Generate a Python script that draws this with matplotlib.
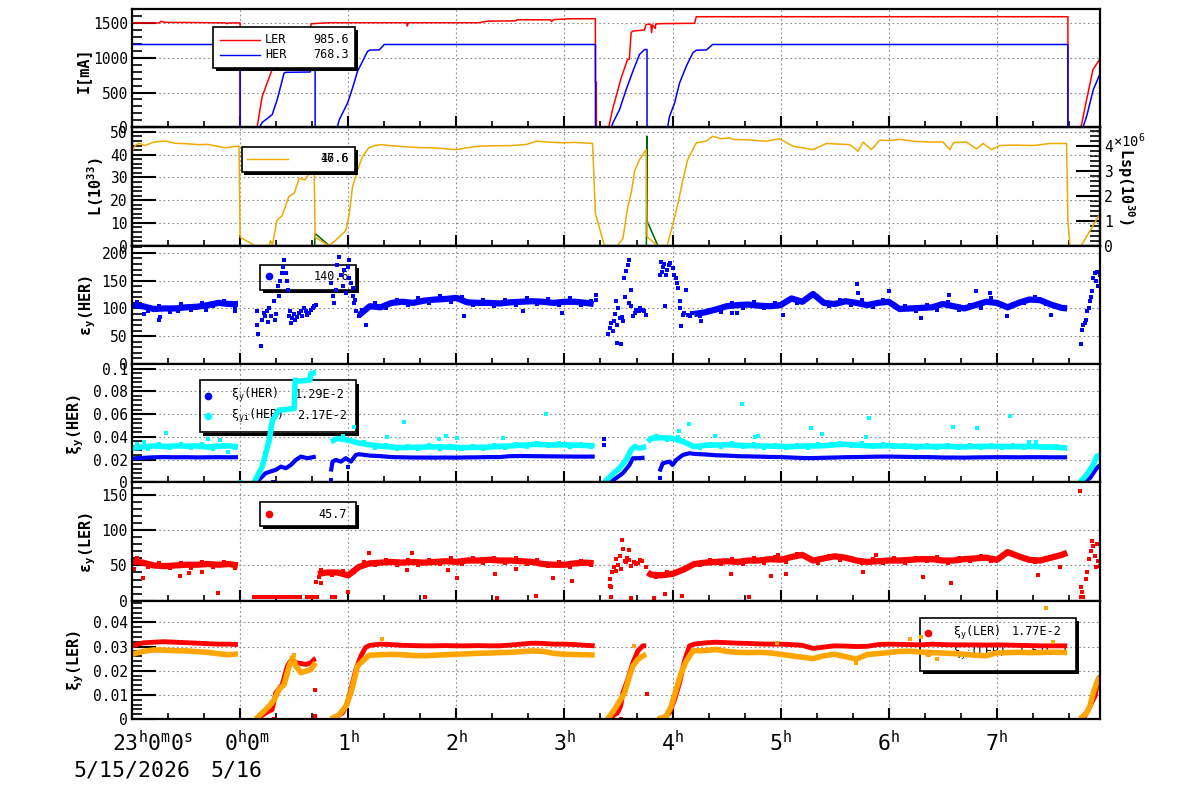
#!/usr/bin/env python
import matplotlib
matplotlib.use('Agg')
import matplotlib.pyplot as plt
import numpy as np
from matplotlib.lines import Line2D
from matplotlib.patches import Rectangle
from matplotlib.ticker import MultipleLocator, AutoMinorLocator, FuncFormatter
from matplotlib.transforms import blended_transform_factory, ScaledTranslation

G = (np.nan, np.nan)  # break between runs

# time: hours after 23:00 on 5/15/2026
tick_hours = [0, 1, 2, 3, 4, 5, 6, 7, 8]
tick_labels = ['23$^\\mathregular{h}$0$^\\mathregular{m}$0$^\\mathregular{s}$',
               '0$^\\mathregular{h}$0$^\\mathregular{m}$',
               '1$^\\mathregular{h}$', '2$^\\mathregular{h}$', '3$^\\mathregular{h}$',
               '4$^\\mathregular{h}$', '5$^\\mathregular{h}$', '6$^\\mathregular{h}$',
               '7$^\\mathregular{h}$']
date_labels = ['5/15/2026', '5/16']

# beam currents [mA]
i_ler = [(0.0, 1500), (0.25, 1500), (0.27, 1525), (0.30, 1508), (0.62, 1505), (0.86, 1500),
         (0.88, 1490), (0.90, 1500), (1.0, 1500), (1.0, 0), (1.157, 0), (1.204, 444),
         (1.296, 829), (1.343, 973), (1.49, 990), (1.50, 1380), (1.64, 1390), (1.66, 1488),
         (1.82, 1503), (2.54, 1503), (2.546, 1455), (2.556, 1503), (3.2, 1503), (3.3, 1526),
         (3.55, 1530), (3.56, 1545), (3.87, 1545), (3.88, 1520), (3.90, 1548), (4.05, 1560),
         (4.286, 1560), (4.287, 650), (4.295, 650), (4.296, 0), (4.41, 0), (4.444, 251),
         (4.525, 709), (4.583, 973), (4.60, 980), (4.617, 1358), (4.63, 1382), (4.722, 1396),
         (4.74, 1400), (4.756, 1478), (4.80, 1480), (4.806, 1362), (4.815, 1470), (4.84, 1420),
         (4.845, 1485), (4.9, 1490), (5.204, 1495), (5.219, 1589), (8.657, 1589), (8.657, 0),
         (8.778, 0), (8.83, 397), (8.889, 829), (8.954, 983)]
i_her = [(0.0, 1190), (1.0, 1190), (1.0, 0), (1.18, 0), (1.204, 70), (1.296, 180), (1.343, 397),
         (1.407, 781), (1.42, 790), (1.648, 795), (1.685, 926), (1.694, 926), (1.694, 0),
         (1.898, 0), (1.917, 108), (1.994, 349), (2.04, 565), (2.086, 805), (2.179, 1093),
         (2.20, 1110), (2.287, 1112), (2.333, 1190), (4.287, 1190), (4.287, 0), (4.435, 0),
         (4.447, 60), (4.509, 252), (4.571, 541), (4.633, 805), (4.694, 1046), (4.741, 1118),
         (4.764, 1118), (4.764, 0), (4.954, 0), (4.972, 156), (5.019, 349), (5.065, 637),
         (5.127, 877), (5.188, 1070), (5.219, 1108), (5.315, 1112), (5.37, 1190), (8.657, 1190),
         (8.657, 0), (8.796, 0), (8.83, 156), (8.892, 541), (8.954, 768)]
cur_last = ['985.6', '768.3']

# luminosity L [1e33] and Lsp [1e30 x 1e6]
lum = [(0.0, 41.5), (0.03, 44), (0.065, 45), (0.12, 44), (0.2, 45.5), (0.31, 46), (0.4, 45),
       (0.5, 44.8), (0.62, 44.4), (0.7, 44.5), (0.8, 43.6), (0.86, 43), (0.93, 43.5),
       (0.99, 43.7), (1.0, 3.7), (1.14, 0), (1.27, 0), (1.28, 2.2), (1.30, 0.5), (1.34, 11),
       (1.39, 13.3), (1.45, 21.5), (1.50, 23), (1.546, 29.6), (1.60, 28.9), (1.65, 32.6),
       (1.685, 34.8), (1.694, 3.7), (1.82, 0), (1.88, 2.2), (1.98, 6.7), (2.01, 14), (2.04, 26),
       (2.086, 33), (2.13, 39), (2.19, 43), (2.25, 44), (2.31, 44.4), (2.4, 43.9), (2.47, 43.7),
       (2.6, 43.2), (2.75, 43), (2.85, 42.8), (2.997, 42.2), (3.1, 43), (3.21, 43.7),
       (3.35, 43.9), (3.52, 44), (3.65, 44.5), (3.74, 45.9), (3.85, 45.5), (3.98, 45.2),
       (4.1, 45.4), (4.26, 44.9), (4.287, 14), (4.37, 0), (4.49, 0), (4.54, 3), (4.586, 17),
       (4.617, 23), (4.65, 33), (4.694, 37.8), (4.756, 42.2), (4.764, 4), (4.86, 0), (4.95, 0),
       (4.988, 6.7), (5.05, 18.5), (5.096, 29), (5.14, 37.8), (5.22, 45.2), (5.31, 45.9),
       (5.37, 48.1), (5.45, 47), (5.53, 47.4), (5.56, 46.7), (5.7, 46.5), (5.867, 45.9),
       (5.99, 47), (6.114, 43.7), (6.2, 43), (6.299, 42.2), (6.423, 44.9), (6.55, 44.6),
       (6.639, 44.4), (6.716, 41.5), (6.762, 45.5), (6.84, 42.2), (6.917, 46.4), (7.0, 46.2),
       (7.102, 46.7), (7.25, 45.8), (7.41, 45.5), (7.5, 45.6), (7.565, 42.2), (7.6, 45.3),
       (7.719, 45.5), (7.812, 42.5), (7.873, 44.9), (7.951, 42.2), (8.028, 44), (8.15, 44.2),
       (8.336, 44), (8.491, 44.9), (8.645, 44.9), (8.657, 11), (8.676, 0), (8.78, 0),
       (8.954, 14)]
lsp = [(1.690, 0.0), (1.694, 0.49), (1.824, 0.0), G, (4.758, 0.0), (4.762, 4.4), (4.764, 1.0),
       (4.864, 0.0)]
lum_last = ['47.6', '16.6']

# vertical emittance HER
eh_band = [(0.0, 106), (0.1, 104), (0.2, 99), (0.3, 100), (0.4, 100), (0.5, 102), (0.6, 103),
           (0.7, 106), (0.8, 110), (0.9, 108), (0.98, 108), G,
           (2.1, 88), (2.2, 104), (2.3, 102), (2.4, 110), (2.5, 112), (2.6, 110), (2.7, 114),
           (2.8, 116), (2.9, 117), (3.0, 119), (3.1, 111), (3.2, 110), (3.3, 110), (3.4, 109),
           (3.5, 111), (3.6, 112), (3.7, 113), (3.8, 112), (3.9, 110), (4.0, 112), (4.1, 112),
           (4.2, 110), (4.27, 108), G,
           (5.2, 90), (5.3, 93), (5.4, 98), (5.5, 104), (5.6, 106), (5.7, 107), (5.8, 105),
           (5.9, 104), (6.0, 106), (6.1, 118), (6.2, 112), (6.3, 126), (6.4, 110), (6.5, 108),
           (6.6, 113), (6.7, 110), (6.8, 106), (6.9, 110), (7.0, 112), (7.1, 99), (7.2, 100),
           (7.3, 101), (7.4, 102), (7.5, 108), (7.6, 104), (7.7, 100), (7.8, 106), (7.9, 112),
           (8.0, 110), (8.1, 102), (8.2, 110), (8.3, 116), (8.4, 115), (8.5, 107), (8.6, 101),
           (8.65, 100)]
eh_spread = [(0.05, 112), (0.15, 96), (0.25, 104), (0.35, 94), (0.45, 108), (0.55, 98),
             (0.65, 110), (0.75, 104), (0.85, 114), (0.95, 103),
             (2.15, 98), (2.25, 110), (2.35, 100), (2.45, 116), (2.55, 106), (2.65, 118),
             (2.75, 110), (2.85, 122), (2.95, 112), (3.05, 121), (3.15, 106), (3.25, 116),
             (3.35, 104), (3.45, 115), (3.55, 106), (3.65, 119), (3.75, 108), (3.85, 117),
             (3.95, 106), (4.05, 118), (4.15, 106), (4.25, 114),
             (5.25, 86), (5.35, 97), (5.45, 94), (5.55, 110), (5.65, 101), (5.75, 112),
             (5.85, 100), (5.95, 110), (6.05, 112), (6.15, 110), (6.25, 120), (6.35, 118),
             (6.45, 104), (6.55, 116), (6.65, 106), (6.75, 116), (6.85, 102), (6.95, 116),
             (7.05, 104), (7.15, 104), (7.25, 96), (7.35, 106), (7.45, 98), (7.55, 112),
             (7.65, 98), (7.75, 106), (7.85, 100), (7.95, 118), (8.05, 104), (8.15, 108),
             (8.25, 110), (8.35, 120), (8.45, 108), (8.55, 104)]
eh_pts = [(0.25, 80), (0.26, 85), (0.11, 90), (0.43, 95), (0.68, 97), (0.95, 96),
          (1.157, 95), (1.16, 70), (1.17, 54), (1.19, 33), (1.20, 80), (1.22, 92), (1.23, 86),
          (1.25, 95), (1.26, 75), (1.27, 100), (1.29, 86), (1.31, 113), (1.32, 80), (1.33, 90),
          (1.35, 140), (1.36, 122), (1.37, 150), (1.39, 164), (1.40, 175), (1.41, 188),
          (1.42, 164), (1.43, 150), (1.44, 134), (1.45, 86), (1.46, 95), (1.47, 74), (1.48, 83),
          (1.50, 90), (1.51, 80), (1.53, 84), (1.545, 92), (1.56, 95), (1.576, 86), (1.59, 100),
          (1.61, 95), (1.62, 88), (1.64, 92), (1.66, 98), (1.67, 101), (1.68, 104), (1.70, 107),
          (1.84, 146), (1.855, 122), (1.87, 110), (1.886, 134), (1.90, 178), (1.917, 193),
          (1.93, 160), (1.95, 140), (1.96, 170), (1.98, 128), (2.0, 175), (2.009, 188),
          (2.01, 155), (2.025, 146), (2.04, 122), (2.045, 137), (2.056, 110), (2.06, 116),
          (2.071, 95), (2.10, 86), (2.13, 98), (2.16, 71),
          (3.07, 86), (3.62, 95), (3.98, 92), (4.29, 125), (4.29, 116),
          (4.40, 54), (4.42, 65), (4.43, 74), (4.45, 60), (4.46, 77), (4.47, 90), (4.48, 113),
          (4.485, 37), (4.49, 71), (4.50, 100), (4.51, 83), (4.52, 36), (4.53, 85), (4.54, 77),
          (4.554, 155), (4.56, 120), (4.57, 167), (4.586, 178), (4.594, 188), (4.60, 110),
          (4.617, 134), (4.62, 104), (4.633, 86), (4.65, 92), (4.664, 98), (4.694, 95),
          (4.70, 100), (4.725, 98), (4.74, 95), (4.756, 89),
          (4.88, 161), (4.895, 184), (4.90, 165), (4.91, 175), (4.92, 180), (4.927, 104),
          (4.94, 161), (4.95, 170), (4.97, 178), (4.98, 182), (5.0, 173), (5.01, 160),
          (5.034, 155), (5.04, 145), (5.05, 137), (5.065, 113), (5.07, 100), (5.08, 68),
          (5.096, 89), (5.11, 92), (5.127, 134), (5.14, 88), (5.157, 86), (5.18, 92),
          (5.26, 78), (5.55, 92), (5.60, 92), (6.02, 89), (6.71, 144), (6.72, 128), (7.0, 131),
          (7.3, 83), (7.56, 125), (7.81, 131), (7.94, 128), (8.09, 86), (8.5, 89),
          (8.78, 36), (8.79, 62), (8.80, 71), (8.815, 74), (8.82, 80), (8.83, 95), (8.85, 100),
          (8.86, 113), (8.87, 120), (8.88, 131), (8.89, 155), (8.905, 164), (8.92, 149),
          (8.93, 165), (8.94, 140), (8.95, 160)]
eh_last = '140.6'

# beam-beam parameter HER
xh_band = [(0.0, 0.0210), (0.1, 0.0215), (0.2, 0.0220), (0.3, 0.0222), (0.4, 0.0220),
           (0.5, 0.0221), (0.6, 0.0219), (0.7, 0.0220), (0.8, 0.0221), (0.9, 0.0220),
           (0.98, 0.0221), G,
           (1.157, 0.0008), (1.204, 0.005), (1.235, 0.008), (1.281, 0.0095), (1.33, 0.011),
           (1.377, 0.0138), (1.423, 0.0124), (1.47, 0.0153), (1.516, 0.0197), (1.562, 0.0226),
           (1.623, 0.0212), (1.70, 0.0226), G,
           (1.84, 0.0095), (1.855, 0.0182), (1.886, 0.0197), (1.932, 0.0182), (1.978, 0.0212),
           (2.025, 0.0182), (2.071, 0.0241), (2.10, 0.0247), (2.2, 0.0235), (2.3, 0.0230),
           (2.4, 0.0222), (2.5, 0.0220), (2.6, 0.0218), (2.7, 0.0218), (2.8, 0.0217),
           (2.9, 0.0218), (3.0, 0.0217), (3.1, 0.0219), (3.2, 0.0220), (3.3, 0.0222),
           (3.4, 0.0222), (3.5, 0.0230), (3.6, 0.0231), (3.7, 0.0230), (3.8, 0.0229),
           (3.9, 0.0228), (4.0, 0.0227), (4.1, 0.0226), (4.2, 0.0226), (4.28, 0.0226), G,
           (4.417, 0.0), (4.478, 0.0037), (4.54, 0.008), (4.602, 0.0153), (4.633, 0.0212),
           (4.679, 0.0212), (4.741, 0.0217), G,
           (4.88, 0.0095), (4.91, 0.0168), (4.972, 0.0182), (5.0, 0.0153), (5.034, 0.0197),
           (5.096, 0.0241), (5.157, 0.0256), (5.2, 0.0250), (5.3, 0.0245), (5.4, 0.0238),
           (5.5, 0.0235), (5.6, 0.0230), (5.7, 0.0228), (5.8, 0.0226), (5.9, 0.0223),
           (6.0, 0.0222), (6.1, 0.0218), (6.2, 0.0214), (6.3, 0.0213), (6.4, 0.0216),
           (6.5, 0.0218), (6.6, 0.0221), (6.7, 0.0222), (6.8, 0.0224), (6.9, 0.0226),
           (7.0, 0.0226), (7.1, 0.0225), (7.2, 0.0223), (7.3, 0.0222), (7.4, 0.0221),
           (7.5, 0.0218), (7.6, 0.0218), (7.7, 0.0217), (7.8, 0.0219), (7.9, 0.0220),
           (8.0, 0.0221), (8.1, 0.0221), (8.2, 0.0220), (8.3, 0.0221), (8.4, 0.0221),
           (8.5, 0.0220), (8.65, 0.0220), G,
           (8.78, 0.0), (8.861, 0.0037), (8.923, 0.0124), (8.954, 0.0153)]
xh_pts = [(1.306, 0.0), (1.84, 0.0023), (1.994, 0.0138), (4.37, 0.038), (4.37, 0.0328),
          (4.88, 0.0037)]
xhi_band = [(0.0, 0.030), (0.1, 0.031), (0.2, 0.032), (0.3, 0.0315), (0.4, 0.032), (0.5, 0.0318),
            (0.6, 0.032), (0.7, 0.031), (0.8, 0.0318), (0.9, 0.032), (0.98, 0.0312), G,
            (1.13, 0.0), (1.204, 0.0138), (1.269, 0.037), (1.30, 0.0547), (1.36, 0.0635),
            (1.42, 0.0640), (1.50, 0.065), (1.51, 0.0898), (1.55, 0.089), (1.60, 0.0895),
            (1.645, 0.0898), (1.655, 0.0956), (1.70, 0.0965), G,
            (1.84, 0.0357), (1.9, 0.0385), (2.0, 0.0370), (2.1, 0.0345), (2.2, 0.033),
            (2.3, 0.0318), (2.4, 0.031), (2.5, 0.0305), (2.6, 0.0308), (2.7, 0.031),
            (2.8, 0.0312), (2.9, 0.031), (3.0, 0.0307), (3.1, 0.0305), (3.2, 0.0308),
            (3.3, 0.031), (3.4, 0.0316), (3.5, 0.032), (3.6, 0.0326), (3.7, 0.0332),
            (3.8, 0.0332), (3.9, 0.0328), (4.0, 0.033), (4.1, 0.0326), (4.2, 0.0323),
            (4.28, 0.0322), G,
            (4.37, 0.0), (4.44, 0.0066), (4.509, 0.0124), (4.57, 0.0197), (4.617, 0.0285),
            (4.648, 0.0314), (4.694, 0.030), (4.756, 0.0314), G,
            (4.77, 0.0357), (4.8, 0.0387), (4.9, 0.0392), (5.0, 0.0387), (5.1, 0.0357),
            (5.2, 0.0314), (5.3, 0.0325), (5.4, 0.0328), (5.5, 0.0330), (5.6, 0.0326),
            (5.7, 0.0322), (5.8, 0.032), (5.9, 0.0318), (6.0, 0.0316), (6.1, 0.0314),
            (6.2, 0.0318), (6.3, 0.032), (6.4, 0.0322), (6.5, 0.033), (6.6, 0.0334),
            (6.7, 0.0328), (6.8, 0.0322), (6.9, 0.032), (7.0, 0.0322), (7.1, 0.0318),
            (7.2, 0.0316), (7.3, 0.0314), (7.4, 0.0314), (7.5, 0.0316), (7.6, 0.0314),
            (7.7, 0.0312), (7.8, 0.0315), (7.9, 0.0316), (8.0, 0.0316), (8.1, 0.0314),
            (8.2, 0.0314), (8.3, 0.0316), (8.4, 0.0312), (8.5, 0.031), (8.6, 0.0305),
            (8.65, 0.030), G,
            (8.769, 0.0), (8.83, 0.0066), (8.892, 0.0153), (8.923, 0.0226), (8.954, 0.024)]
xhi_spread = [(0.05, 0.0335), (0.15, 0.0292), (0.25, 0.0338), (0.35, 0.0298), (0.45, 0.0336),
              (0.55, 0.0300), (0.65, 0.0334), (0.75, 0.0295), (0.85, 0.0332), (0.95, 0.0298),
              (1.95, 0.0405), (2.05, 0.0352), (2.15, 0.0356), (2.25, 0.0300), (2.35, 0.0328),
              (2.45, 0.0292), (2.55, 0.0322), (2.65, 0.0292), (2.75, 0.0326), (2.85, 0.0296),
              (2.95, 0.0322), (3.05, 0.0292), (3.15, 0.0320), (3.25, 0.0294), (3.35, 0.0326),
              (3.45, 0.0302), (3.55, 0.0338), (3.65, 0.0312), (3.75, 0.0346), (3.85, 0.0318),
              (3.95, 0.0342), (4.05, 0.0314), (4.15, 0.0338), (4.25, 0.0310),
              (4.85, 0.0408), (4.95, 0.0372), (5.05, 0.0402), (5.25, 0.0300), (5.35, 0.0340),
              (5.45, 0.0314), (5.55, 0.0344), (5.65, 0.0312), (5.75, 0.0336), (5.85, 0.0306),
              (5.95, 0.0332), (6.05, 0.0302), (6.15, 0.0330), (6.25, 0.0304), (6.35, 0.0336),
              (6.45, 0.0316), (6.55, 0.0348), (6.65, 0.0318), (6.75, 0.0342), (6.85, 0.0308),
              (6.95, 0.0334), (7.05, 0.0308), (7.15, 0.0332), (7.25, 0.0302), (7.35, 0.0328),
              (7.45, 0.0300), (7.55, 0.0330), (7.65, 0.0300), (7.75, 0.0326), (7.85, 0.0302),
              (7.95, 0.0330), (8.05, 0.0302), (8.15, 0.0328), (8.25, 0.0300), (8.35, 0.0328),
              (8.45, 0.0298), (8.55, 0.0320)]
xhi_pts = [(0.11, 0.0352), (0.31, 0.0436), (0.70, 0.0378), (0.81, 0.0376), (0.89, 0.0264),
           (1.0, 0.0), (2.05, 0.0489), (2.36, 0.0396), (2.52, 0.0527), (2.84, 0.038),
           (2.90, 0.041), (3.01, 0.0392), (3.43, 0.0387), (3.83, 0.0597), (5.06, 0.045),
           (5.15, 0.051), (5.39, 0.041), (5.64, 0.0685), (5.76, 0.0396), (5.79, 0.0407),
           (6.28, 0.0475), (6.38, 0.0422), (6.79, 0.0401), (6.82, 0.0562), (7.59, 0.0484),
           (7.82, 0.0475), (8.12, 0.0583), (8.30, 0.0357), (8.36, 0.0357)]
xh_last = ['1.29E-2', '2.17E-2']

# vertical emittance LER
el_band = [(0.0, 56), (0.1, 54), (0.2, 50), (0.3, 49), (0.4, 50), (0.5, 51), (0.6, 51), (0.7, 52),
           (0.8, 51), (0.9, 52), (0.98, 50), G,
           (1.72, 38), (1.8, 40), (1.9, 40), (2.0, 36), (2.1, 48), (2.2, 53), (2.3, 54),
           (2.4, 55), (2.5, 54), (2.6, 55), (2.7, 54), (2.8, 55), (2.9, 56), (3.0, 55),
           (3.1, 57), (3.2, 57), (3.3, 58), (3.4, 57), (3.5, 57), (3.6, 56), (3.7, 55),
           (3.8, 52), (3.9, 51), (4.0, 51), (4.1, 53), (4.2, 54), (4.27, 53), G,
           (4.77, 40), (4.8, 37), (4.9, 36), (5.0, 38), (5.1, 44), (5.2, 52), (5.3, 54),
           (5.4, 55), (5.5, 56), (5.6, 55), (5.7, 57), (5.8, 57), (5.9, 59), (6.0, 58),
           (6.1, 62), (6.2, 65), (6.3, 57), (6.4, 60), (6.5, 63), (6.6, 61), (6.7, 57),
           (6.8, 55), (6.9, 56), (7.0, 57), (7.1, 57), (7.2, 58), (7.3, 59), (7.4, 59),
           (7.5, 57), (7.6, 57), (7.7, 59), (7.8, 60), (7.9, 61), (8.0, 58), (8.1, 69),
           (8.2, 63), (8.3, 58), (8.4, 57), (8.5, 61), (8.6, 65), (8.65, 68)]
el_spread = [(0.05, 60), (0.15, 48), (0.25, 54), (0.35, 46), (0.45, 53), (0.55, 47), (0.65, 55),
             (0.75, 48), (0.85, 55), (0.95, 47),
             (1.75, 43), (1.85, 36), (1.95, 42), (2.05, 40), (2.15, 55), (2.25, 50), (2.35, 58),
             (2.45, 51), (2.55, 58), (2.65, 51), (2.75, 58), (2.85, 52), (2.95, 60), (3.05, 52),
             (3.15, 60), (3.25, 54), (3.35, 61), (3.45, 53), (3.55, 60), (3.65, 52), (3.75, 58),
             (3.85, 49), (3.95, 55), (4.05, 48), (4.15, 57), (4.25, 50),
             (4.85, 33), (4.95, 40), (5.05, 41), (5.15, 48), (5.25, 50), (5.35, 58), (5.45, 52),
             (5.55, 59), (5.65, 52), (5.75, 60), (5.85, 54), (5.95, 62), (6.05, 55), (6.15, 66),
             (6.25, 60), (6.35, 54), (6.45, 64), (6.55, 58), (6.65, 60), (6.75, 53), (6.85, 59),
             (6.95, 53), (7.05, 60), (7.15, 54), (7.25, 61), (7.35, 56), (7.45, 62), (7.55, 54),
             (7.65, 60), (7.75, 56), (7.85, 64), (7.95, 57), (8.05, 62), (8.15, 66), (8.25, 60),
             (8.35, 55), (8.45, 60), (8.55, 64)]
el_pts = [(0.02, 45), (0.105, 31.7), (0.44, 35.4), (0.53, 38.8), (0.65, 40.2), (0.80, 10.5),
          (1.13, 4.5), (1.15, 4.5), (1.176, 4.5), (1.195, 4.5), (1.213, 4.5), (1.232, 4.5),
          (1.25, 4.5), (1.269, 4.5), (1.287, 4.5), (1.306, 4.5), (1.324, 4.5), (1.352, 4.5),
          (1.37, 4.5), (1.389, 4.5), (1.417, 4.5), (1.435, 4.5), (1.454, 4.5), (1.481, 4.5),
          (1.5, 4.5), (1.519, 4.5), (1.537, 4.5), (1.556, 4.5), (1.62, 4.5), (1.639, 4.5),
          (1.657, 4.5), (1.676, 4.5), (1.694, 4.5), (1.713, 4.5), (1.852, 4.5), (1.88, 4.5),
          (1.70, 26), (1.73, 34), (1.75, 25), (2.0, 11.8), (2.19, 67.5), (2.54, 44),
          (2.59, 67.5), (2.71, 4.8), (2.92, 44), (3.01, 31.7), (3.36, 37.8), (3.38, 3.4),
          (3.55, 45), (3.74, 6.2), (3.89, 31.7), (4.07, 27.5),
          (4.42, 30.7), (4.42, 21), (4.43, 19), (4.43, 4.8), (4.44, 40.2), (4.46, 47.3),
          (4.48, 59), (4.48, 42.5), (4.50, 50), (4.51, 63.7), (4.52, 45), (4.535, 86.4),
          (4.54, 73.2), (4.556, 56.7), (4.57, 54.4), (4.58, 60), (4.595, 72.2), (4.60, 58),
          (4.62, 49.6), (4.62, 3.8), (4.64, 55), (4.66, 52), (4.68, 54), (4.70, 58),
          (4.72, 56.7), (4.75, 47.3), (4.83, 3.8), (4.93, 9.4), (5.09, 6.2), (5.54, 37.8),
          (5.71, 4.8), (5.91, 35.4), (5.98, 64.5), (6.05, 37.8), (6.76, 40.2), (6.88, 64.5),
          (7.32, 33), (7.58, 24.6), (8.38, 36.8), (8.58, 47.3),
          (8.769, 155.8), (8.78, 19), (8.78, 4.8), (8.79, 12.7), (8.80, 4.8), (8.82, 30.7),
          (8.83, 40.2), (8.85, 59), (8.87, 70), (8.88, 85), (8.89, 77.9), (8.91, 63.7),
          (8.92, 47.3), (8.93, 80), (8.94, 56.7), (8.954, 49.6)]
el_last = '45.7'

# beam-beam parameter LER
xl_band = [(0.0, 0.0303), (0.1, 0.0315), (0.2, 0.0318), (0.3, 0.032), (0.4, 0.0318),
           (0.5, 0.0316), (0.6, 0.0314), (0.7, 0.0312), (0.8, 0.031), (0.9, 0.031),
           (0.98, 0.0308), G,
           (1.157, 0.0), (1.235, 0.0025), (1.296, 0.0039), (1.33, 0.0108), (1.39, 0.0143),
           (1.437, 0.0219), (1.466, 0.024), (1.516, 0.0233), (1.562, 0.023), (1.608, 0.0226),
           (1.655, 0.0233), (1.685, 0.0247), (1.70, 0.025), G,
           (1.855, 0.0), (1.948, 0.0025), (1.994, 0.0067), (2.04, 0.015), (2.071, 0.0205),
           (2.117, 0.0261), (2.16, 0.0296), (2.2, 0.0305), (2.3, 0.031), (2.4, 0.0308),
           (2.5, 0.0305), (2.6, 0.0304), (2.7, 0.0303), (2.8, 0.0303), (2.9, 0.0304),
           (3.0, 0.0303), (3.1, 0.0303), (3.2, 0.0304), (3.3, 0.0303), (3.4, 0.0303),
           (3.5, 0.0306), (3.6, 0.031), (3.7, 0.0314), (3.8, 0.0313), (3.9, 0.031),
           (4.0, 0.031), (4.1, 0.0308), (4.2, 0.0305), (4.28, 0.0303), G,
           (4.417, 0.0004), (4.49, 0.0025), (4.52, 0.0053), (4.54, 0.0108), (4.586, 0.0164),
           (4.633, 0.0233), (4.679, 0.0282), (4.725, 0.0303), (4.756, 0.0303), G,
           (4.907, 0.0), (4.972, 0.0025), (5.019, 0.008), (5.065, 0.015), (5.11, 0.024),
           (5.157, 0.0303), (5.2, 0.031), (5.3, 0.0315), (5.4, 0.0318), (5.5, 0.0316),
           (5.6, 0.0314), (5.7, 0.0313), (5.8, 0.0311), (5.9, 0.031), (6.0, 0.031),
           (6.1, 0.0308), (6.2, 0.0305), (6.3, 0.0292), (6.4, 0.0298), (6.5, 0.0303),
           (6.6, 0.0302), (6.7, 0.030), (6.8, 0.0301), (6.9, 0.0308), (7.0, 0.031),
           (7.1, 0.0309), (7.2, 0.0308), (7.3, 0.0307), (7.4, 0.031), (7.5, 0.0308),
           (7.6, 0.0307), (7.7, 0.0307), (7.8, 0.0307), (7.9, 0.0306), (8.0, 0.0307),
           (8.1, 0.0306), (8.2, 0.0305), (8.3, 0.0304), (8.4, 0.0303), (8.5, 0.0303),
           (8.6, 0.0303), (8.65, 0.0303), G,
           (8.796, 0.0), (8.83, 0.0025), (8.907, 0.0094), (8.938, 0.0164), (8.954, 0.0178)]
xl_pts = [(1.31, 0.0), (1.69, 0.0122), (1.69, 0.0014), (4.76, 0.0105), (4.52, 0.0)]
xli_band = [(0.0, 0.0268), (0.1, 0.028), (0.2, 0.0286), (0.3, 0.0285), (0.4, 0.0283),
            (0.5, 0.0282), (0.6, 0.0279), (0.7, 0.0276), (0.8, 0.027), (0.9, 0.0266),
            (0.98, 0.027), G,
            (1.145, 0.0), (1.204, 0.0025), (1.269, 0.0053), (1.315, 0.008), (1.36, 0.0122),
            (1.407, 0.0143), (1.454, 0.0219), (1.485, 0.0254), (1.516, 0.0219), (1.562, 0.0192),
            (1.608, 0.0198), (1.655, 0.0205), (1.685, 0.0226), (1.70, 0.0233), G,
            (1.84, 0.0), (1.917, 0.0018), (1.978, 0.0053), (2.025, 0.0108), (2.056, 0.0164),
            (2.086, 0.0219), (2.133, 0.024), (2.194, 0.0264), (2.3, 0.0266), (2.4, 0.0268),
            (2.5, 0.0266), (2.6, 0.0263), (2.7, 0.0262), (2.8, 0.0264), (2.9, 0.0266),
            (3.0, 0.0268), (3.1, 0.027), (3.2, 0.0272), (3.3, 0.0273), (3.4, 0.0275),
            (3.5, 0.0276), (3.6, 0.0279), (3.7, 0.0282), (3.8, 0.028), (3.9, 0.0272),
            (4.0, 0.0268), (4.1, 0.0267), (4.2, 0.0266), (4.28, 0.0265), G,
            (4.4, 0.0), (4.463, 0.0039), (4.509, 0.0073), (4.556, 0.0108), (4.602, 0.0178),
            (4.633, 0.0219), (4.679, 0.0247), (4.725, 0.0261), (4.756, 0.0268), G,
            (4.864, 0.0), (4.941, 0.0011), (4.988, 0.0053), (5.034, 0.0122), (5.08, 0.0192),
            (5.127, 0.024), (5.188, 0.0282), (5.3, 0.0283), (5.4, 0.0288), (5.5, 0.028),
            (5.6, 0.0276), (5.7, 0.0275), (5.8, 0.0276), (5.9, 0.0274), (6.0, 0.0268),
            (6.1, 0.0262), (6.2, 0.0256), (6.3, 0.025), (6.4, 0.0262), (6.5, 0.0268),
            (6.6, 0.0258), (6.7, 0.0248), (6.8, 0.0267), (6.9, 0.0271), (7.0, 0.0275),
            (7.1, 0.028), (7.2, 0.0281), (7.3, 0.0277), (7.4, 0.0275), (7.5, 0.0273),
            (7.6, 0.0271), (7.7, 0.0268), (7.8, 0.0264), (7.9, 0.0262), (8.0, 0.0274),
            (8.1, 0.0275), (8.2, 0.0276), (8.3, 0.0275), (8.4, 0.0275), (8.5, 0.0277),
            (8.6, 0.0276), (8.65, 0.0275), G,
            (8.769, 0.0), (8.83, 0.0025), (8.861, 0.0053), (8.892, 0.0108), (8.923, 0.015),
            (8.954, 0.0178)]
xli_pts = [(1.50, 0.0265), (2.315, 0.0333), (4.64, 0.0303), (5.97, 0.0314), (6.70, 0.023),
           (7.20, 0.0333), (7.30, 0.0338), (7.45, 0.0247), (8.45, 0.0458), (8.52, 0.0317)]
xl_last = ['1.77E-2', '1.51E-2']

W, H = 1200, 798
RED, BLUE, CYAN, ORANGE, GOLD, GREEN = '#ff0000', '#0000ff', '#00ffff', '#ffa500', '#eeaa00', '#006400'

plt.rcParams['font.family'] = 'DejaVu Sans Mono'
fig = plt.figure(figsize=(12, 7.98), dpi=100)


def fx(x):
    return x / W


def fy(y):
    return 1 - y / H


def xy(points):
    a = np.array(points, dtype=float)
    return a[:, 0], a[:, 1]


def style(ax, top, step):
    ax.set_xlim(0, 8.954)
    ax.set_ylim(0, top)
    ax.xaxis.set_major_locator(MultipleLocator(1))
    ax.xaxis.set_minor_locator(MultipleLocator(1 / 3))
    ax.yaxis.set_major_locator(MultipleLocator(step))
    ax.yaxis.set_minor_locator(AutoMinorLocator(5))
    ax.yaxis.set_major_formatter(FuncFormatter(lambda v, p: '%g' % round(v, 6)))
    ax.tick_params(axis='y', which='major', direction='in', length=17, width=1.5,
                   labelsize=10.5, pad=3)
    ax.tick_params(axis='y', which='minor', direction='in', length=7, width=1.2)
    ax.tick_params(axis='x', which='major', direction='in', length=8, width=1.5,
                   labelbottom=False)
    ax.tick_params(axis='x', which='minor', direction='in', length=4, width=1.2)
    ax.grid(True, which='major', color='#8c8c8c', ls=(0, (1.5, 2.5)), lw=0.8)
    ax.set_axisbelow(True)
    for sp in ax.spines.values():
        sp.set_linewidth(1.6)


def box(ax, x0, y0, x1, y1, z, opaque):
    kw = dict(transform=fig.transFigure, clip_on=False, zorder=z)
    ax.add_patch(Rectangle((fx(x0 + 3), fy(y1 + 3)), (x1 - x0) / W, 3 / H, fc='k', ec='none', **kw))
    ax.add_patch(Rectangle((fx(x1), fy(y1 + 3)), 3 / W, (y1 - y0) / H, fc='k', ec='none', **kw))
    ax.add_patch(Rectangle((fx(x0), fy(y1)), (x1 - x0) / W, (y1 - y0) / H,
                           fc='white' if opaque else 'none', ec='k', lw=1.2, **kw))


def key_line(ax, x0, x1, y, color, z):
    ax.add_line(Line2D([fx(x0), fx(x1)], [fy(y), fy(y)], color=color, lw=1,
                       transform=fig.transFigure, clip_on=False, zorder=z))


def key_dot(ax, x, y, color, z):
    ax.add_line(Line2D([fx(x)], [fy(y)], marker='o', ms=4.5, ls='none', color=color,
                       transform=fig.transFigure, clip_on=False, zorder=z))


def key_text(ax, x, y, s, ha, z):
    ax.text(fx(x), fy(y), s, ha=ha, va='center', fontsize=8.5, transform=fig.transFigure,
            zorder=z)


def band(ax, points, color, lw):
    t, v = xy(points)
    ax.plot(t, v, color=color, lw=lw, solid_capstyle='butt', zorder=2)


def dots(ax, points, color, ms=2.8):
    t, v = xy(points)
    ax.plot(t, v, 's', color=color, ms=ms, mew=0, zorder=2)


top_px, bot_px = 9, 719
ph = (bot_px - top_px) / 6
axes = []
for i in range(6):
    y_top = top_px + i * ph
    axes.append(fig.add_axes([fx(132), fy(y_top + ph), (1100 - 132) / W, ph / H]))
ax1, ax2, ax3, ax4, ax5, ax6 = axes

# 1: currents
style(ax1, 1700, 500)
t, v = xy(i_ler)
ax1.plot(t, v, color=RED, lw=1.1, zorder=2)
t, v = xy(i_her)
ax1.plot(t, v, color=BLUE, lw=1.1, zorder=2)
box(ax1, 213, 27, 355, 68, 6, True)
key_line(ax1, 220, 260, 39.5, RED, 7)
key_line(ax1, 220, 260, 54.5, BLUE, 7)
key_text(ax1, 265, 39.5, 'LER', 'left', 7)
key_text(ax1, 265, 54.5, 'HER', 'left', 7)
key_text(ax1, 349, 39.5, cur_last[0], 'right', 7)
key_text(ax1, 349, 54.5, cur_last[1], 'right', 7)

# 2: luminosity with specific luminosity on the right
style(ax2, 52, 10)
ax2b = ax2.twinx()
ax2b.set_zorder(ax2.get_zorder() - 1)
ax2.patch.set_visible(False)
ax2b.set_ylim(0, 4.75)
ax2b.yaxis.set_major_locator(MultipleLocator(1))
ax2b.yaxis.set_minor_locator(AutoMinorLocator(5))
ax2b.yaxis.set_major_formatter(FuncFormatter(lambda v, p: '%g' % v))
ax2b.tick_params(axis='y', which='major', direction='in', length=17, width=1.5,
                 labelsize=10.5, pad=3)
ax2b.tick_params(axis='y', which='minor', direction='in', length=7, width=1.2)
for sp in ax2b.spines.values():
    sp.set_linewidth(1.6)
t, v = xy(lsp)
ax2b.plot(t, v, color=GREEN, lw=1.1)
t, v = xy(lum)
ax2.plot(t, v, color=GOLD, lw=1.1, zorder=2)
box(ax2, 241.5, 146.5, 355, 171.5, 6, True)
key_line(ax2, 247, 288, 159, GOLD, 7)
key_text(ax2, 349, 159, lum_last[0], 'right', 7)
key_text(ax2, 349, 159, lum_last[1], 'right', 7)
fig.text(fx(1113), fy(147), '×10$^\\mathregular{6}$', fontsize=10, ha='left', va='baseline')
fig.text(fx(1126), fy(186), 'Lsp(10$^\\mathregular{30}$)', rotation=270, fontsize=11,
         fontweight='bold', ha='center', va='center')

# 3: emittance HER
style(ax3, 213, 50)
box(ax3, 260, 264.5, 356, 290, 1.5, False)
key_dot(ax3, 268.5, 276, BLUE, 1.6)
key_text(ax3, 349, 277, eh_last, 'right', 1.6)
band(ax3, eh_band, BLUE, 4.5)
dots(ax3, eh_spread, BLUE, 3.2)
dots(ax3, eh_pts, BLUE)

# 4: beam-beam HER
style(ax4, 0.104, 0.02)
box(ax4, 199.5, 380.5, 356, 432.5, 1.5, False)
key_dot(ax4, 207.5, 395.5, BLUE, 1.6)
key_dot(ax4, 207.5, 416.5, CYAN, 1.6)
key_text(ax4, 231, 395.5, 'ξ$_\\mathregular{y}$(HER)', 'left', 1.6)
key_text(ax4, 231, 416.5, 'ξ$_\\mathregular{yi}$(HER)', 'left', 1.6)
key_text(ax4, 345, 394.5, xh_last[0], 'right', 1.6)
key_text(ax4, 347, 415.5, xh_last[1], 'right', 1.6)
band(ax4, xh_band, BLUE, 3)
dots(ax4, xh_pts, BLUE)
band(ax4, xhi_band, CYAN, 4)
dots(ax4, xhi_spread, CYAN, 3.2)
dots(ax4, xhi_pts, CYAN)

# 5: emittance LER
style(ax5, 168, 50)
box(ax5, 260, 501.5, 356, 526, 1.5, False)
key_dot(ax5, 268.5, 513.5, RED, 1.6)
key_text(ax5, 347, 514, el_last, 'right', 1.6)
band(ax5, el_band, RED, 4.5)
dots(ax5, el_spread, RED, 3.2)
dots(ax5, el_pts, RED)

# 6: beam-beam LER
style(ax6, 0.049, 0.01)
box(ax6, 919.5, 617.5, 1075.5, 670.5, 1.5, False)
key_dot(ax6, 927.5, 632.5, RED, 1.6)
key_dot(ax6, 927.5, 652.5, ORANGE, 1.6)
key_text(ax6, 953, 632.5, 'ξ$_\\mathregular{y}$(LER)', 'left', 1.6)
key_text(ax6, 953, 652.5, 'ξ$_\\mathregular{yi}$(LER)', 'left', 1.6)
key_text(ax6, 1062, 631.5, xl_last[0], 'right', 1.6)
key_text(ax6, 1068, 651.5, xl_last[1], 'right', 1.6)
band(ax6, xl_band, RED, 3.5)
dots(ax6, xl_pts, RED)
band(ax6, xli_band, ORANGE, 4)
dots(ax6, xli_pts, ORANGE)

# y-axis titles
ylabels = [('I[mA]', 83, 70), ('L(10$^\\mathregular{33}$)', 96, 187),
           ('ε$_\\mathregular{y}$(HER)', 88, 305), ('ξ$_\\mathregular{y}$(HER)', 76, 424),
           ('ε$_\\mathregular{y}$(LER)', 88, 542), ('ξ$_\\mathregular{y}$(LER)', 76, 660)]
for s, cx, cy in ylabels:
    fig.text(fx(cx), fy(cy), s, rotation=90, fontsize=11, fontweight='bold',
             ha='center', va='center')

# time labels under the bottom panel
trans = blended_transform_factory(ax6.transData, fig.transFigure)
shift = [21, 7.5, 0, 0, 0, 0, 0, 0, 0]
for h, s, dx in zip(tick_hours, tick_labels, shift):
    ax6.text(h, fy(751), s, ha='center', va='baseline', fontsize=15.5, clip_on=False,
             transform=trans + ScaledTranslation(dx / 100, 0, fig.dpi_scale_trans))
for h, s, dx in zip(tick_hours, date_labels, [0, -3.5]):
    ax6.text(h, fy(776), s, ha='center', va='baseline', fontsize=15.5, clip_on=False,
             transform=trans + ScaledTranslation(dx / 100, 0, fig.dpi_scale_trans))

fig.savefig('out.png', dpi=100)
